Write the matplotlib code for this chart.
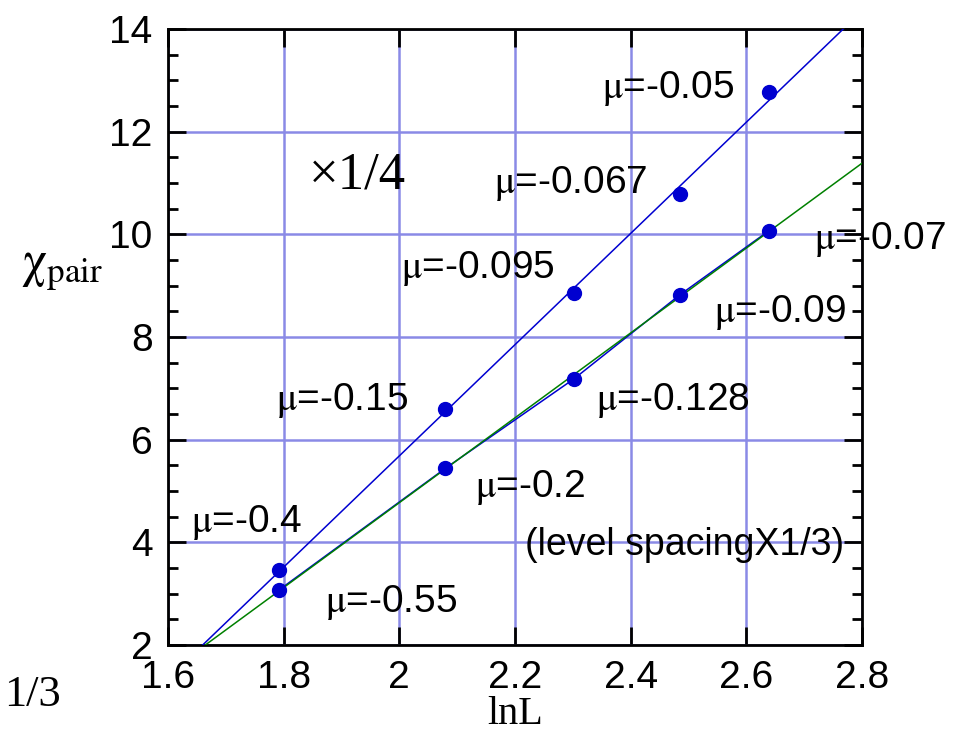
import numpy as np
import matplotlib.pyplot as plt
from matplotlib.ticker import MultipleLocator

plt.rcParams['font.family'] = ['Liberation Sans', 'DejaVu Sans']
plt.rcParams['mathtext.fontset'] = 'stix'

# system sizes L and the pair susceptibility for the two data sets
sizes = [6, 8, 10, 12, 14]
chi_upper = [3.46, 6.60, 8.86, 10.78, 12.78]   # scaled by 1/4
chi_lower = [3.07, 5.44, 7.19, 8.82, 10.07]    # level spacing x 1/3
mu_upper = ['-0.4', '-0.15', '-0.095', '-0.067', '-0.05']
mu_lower = ['-0.55', '-0.2', '-0.128', '-0.09', '-0.07']

# where each mu label sits (data coords)
upper_label_pos = [(1.735, 4.38), (1.901, 6.77), (2.136, 9.34), (2.297, 11.0), (2.465, 12.85)]
lower_label_pos = [(1.986, 2.82), (2.226, 5.06), (2.473, 6.77), (2.658, 8.47), (2.831, 9.89)]

lnL = np.log(sizes)

fig = plt.figure(figsize=(9.61, 7.44), dpi=100)
ax = fig.add_axes([0.1748, 0.1331, 0.7222, 0.8279])

blue = '#0000d0'
green = '#008000'

# straight-line fits in lnL
xx = np.array([1.6, 2.8])
p_up = np.polyfit(lnL, chi_upper, 1)
p_lo = np.polyfit(lnL, chi_lower, 1)

ax.plot(xx, np.polyval(p_up, xx), color=blue, lw=1.1, zorder=3)
ax.plot(lnL, chi_lower, color=blue, lw=1.1, zorder=3)
ax.plot(xx, np.polyval(p_lo, xx), color=green, lw=1.1, zorder=4)
ax.plot(lnL, chi_upper, 'o', color=blue, ms=10, zorder=5)
ax.plot(lnL, chi_lower, 'o', color=blue, ms=10, zorder=5)

for val, (x, y) in zip(mu_upper + mu_lower, upper_label_pos + lower_label_pos):
    ax.text(x, y, r'$\mathrm{μ}$=' + val, fontsize=28, ha='center', va='center',
            clip_on=False, zorder=6)

ax.text(1.927, 11.15, '×1/4', fontsize=38, family='Liberation Serif', ha='center', va='center')
ax.text(2.494, 3.95, '(level spacingX1/3)', fontsize=27, ha='center', va='center')

ax.set_xlim(1.6, 2.8)
ax.set_ylim(2, 14)
ax.yaxis.set_minor_locator(MultipleLocator(0.5))
ax.set_xticks([1.6, 1.8, 2.0, 2.2, 2.4, 2.6, 2.8])
ax.set_xticklabels(['1.6', '1.8', '2', '2.2', '2.4', '2.6', '2.8'])
ax.set_yticks([2, 4, 6, 8, 10, 12, 14])

ax.grid(True, which='major', color='#8a8ae6', lw=1.8, zorder=0)
ax.set_axisbelow(True)

ax.tick_params(which='both', direction='in', top=True, right=True, labelsize=28, width=2)
ax.tick_params(which='major', length=13)
ax.tick_params(which='minor', length=7)
ax.tick_params(axis='x', pad=11)
ax.tick_params(axis='y', pad=11)
for s in ax.spines.values():
    s.set_linewidth(2)

fig.text(515 / 961, 1 - 715 / 744, 'lnL', fontsize=29, family='Liberation Serif',
         ha='center', va='center')
fig.text(62 / 961, 1 - 270 / 744, r'$\mathrm{χ}_{\mathrm{pair}}$', fontsize=36,
         ha='center', va='center')
fig.text(4 / 961, 1 - 695 / 744, '1/3', fontsize=32, family='Liberation Serif',
         ha='left', va='center')

fig.savefig('out.png', dpi=100)
